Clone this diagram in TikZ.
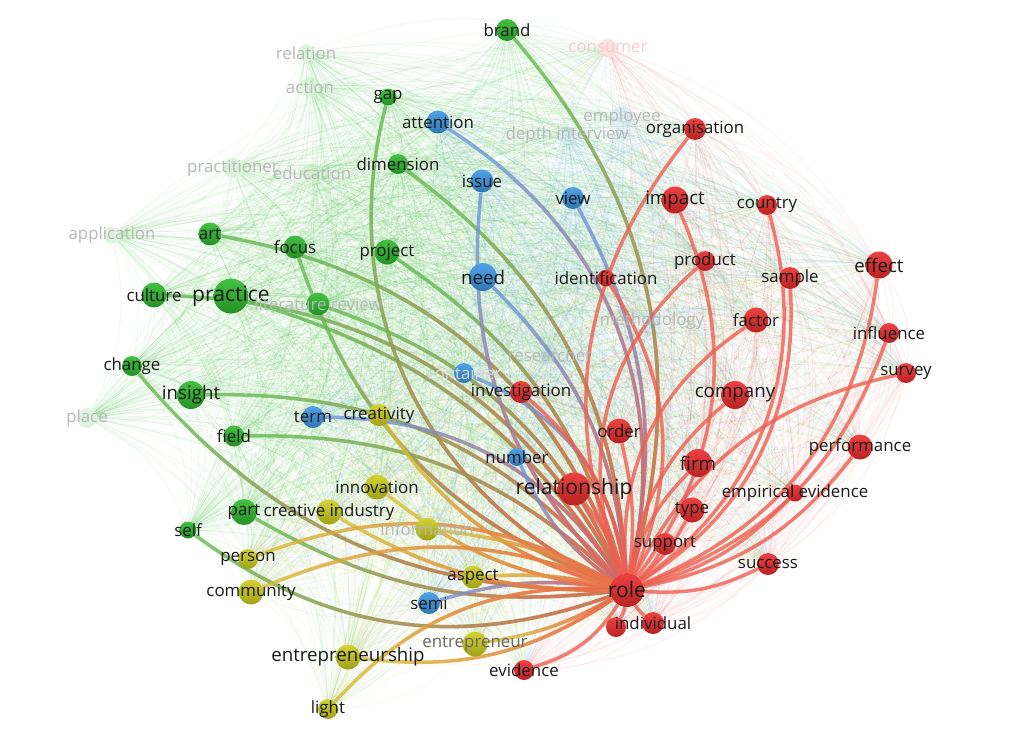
\documentclass[tikz,border=0pt]{standalone}
\usepackage{fontspec}
\setmainfont{Open Sans}
\usetikzlibrary{fadings}

\definecolor{colG}{RGB}{46,186,46}
\definecolor{colB}{RGB}{60,152,228}
\definecolor{colY}{RGB}{206,206,30}
\definecolor{colR}{RGB}{236,44,44}
\definecolor{edG}{RGB}{100,185,80}
\definecolor{edB}{RGB}{110,150,215}
\definecolor{edY}{RGB}{215,190,50}
\definecolor{edR}{RGB}{238,95,80}

\pgfdeclarelayer{mesh}
\pgfdeclarelayer{links}
\pgfsetlayers{mesh,links,main}

\tikzset{
  bub/.style={circle,inner sep=0pt,top color=#1!90!white,bottom color=#1!78!black},
  ghost/.style={circle,inner sep=0pt,fill=#1,fill opacity=0.15},
  dia/.style={minimum size=#1*0.025cm},
  lab/.style={font=\fontsize{12}{12}\selectfont,text=black!90,inner sep=0pt},
  labM/.style={lab,font=\fontsize{13.3}{13}\selectfont},
  labL/.style={lab,font=\fontsize{15}{15}\selectfont},
  glab/.style={lab,text=black!28},
  hot/.style={draw=#1,line width=2.5pt,draw opacity=0.8},
  mesh/.style={draw=#1,line width=0.5pt,draw opacity=0.09},
}

% edge to role, coloured from the keyword's cluster into red
\newcommand{\toRole}[3]{%
  \draw[hot=#3] (#1) to[#2] (role);
  \pgfmathanglebetweenpoints{\pgfpointanchor{role}{center}}{\pgfpointanchor{#1}{center}}%
  \let\edgeang\pgfmathresult
  \draw[hot=edR,path fading=east,fading angle=\edgeang] (#1) to[#2] (role);
}
\newcommand{\redRole}[2]{\draw[hot=edR] (#1) to[#2] (role);}

\def\kwlist{brand/colG,relation/colG,action/colG,gap/colG,dimension/colG,practitioner/colG,
  education/colG,art/colG,application/colG,focus/colG,project/colG,culture/colG,practice/colG,
  litrev/colG,change/colG,insight/colG,place/colG,field/colG,part/colG,self/colG,
  attention/colB,employee/colB,depthint/colB,issue/colB,view/colB,need/colB,method/colB,
  researcher/colB,container/colB,term/colB,number/colB,semi/colB,
  creativity/colY,innovation/colY,creaind/colY,information/colY,person/colY,community/colY,
  aspect/colY,entship/colY,entrepreneur/colY,light/colY,
  consumer/colR,organisation/colR,impact/colR,country/colR,product/colR,identification/colR,
  sample/colR,effect/colR,factor/colR,influence/colR,survey/colR,investigation/colR,
  company/colR,order/colR,performance/colR,firm/colR,relationship/colR,empev/colR,type/colR,
  support/colR,success/colR,noname/colR,individual/colR,evidence/colR,role/colR}

\begin{document}
\begin{tikzpicture}[x=0.025cm,y=0.025cm]
    \useasboundingbox (0,0) rectangle (1024,-737);

    % green cluster
    \node[bub=colG,dia=22,label={[lab]center:brand}] (brand) at (507,-30) {};
    \node[ghost=colG,dia=17,label={[glab]center:relation}] (relation) at (306,-53) {};
    \node[ghost=colG,dia=20,label={[glab]center:action}] (action) at (310,-87) {};
    \node[bub=colG,dia=17,label={[lab]center:gap}] (gap) at (388,-97) {};
    \node[bub=colG,dia=20,label={[lab]center:dimension}] (dimension) at (398,-164) {};
    \node[ghost=colG,dia=20,label={[glab]center:practitioner}] (practitioner) at (233,-168) {};
    \node[ghost=colG,dia=20,label={[glab]center:education}] (education) at (312,-173) {};
    \node[bub=colG,dia=23,label={[lab]center:art}] (art) at (210,-234) {};
    \node[ghost=colG,dia=17,label={[glab]center:application}] (application) at (112,-235) {};
    \node[bub=colG,dia=23,label={[lab]center:focus}] (focus) at (295,-247) {};
    \node[bub=colG,dia=25,label={[lab]center:project}] (project) at (387,-252) {};
    \node[bub=colG,dia=25,label={[lab]center:culture}] (culture) at (154,-295) {};
    \node[bub=colG,dia=35,label={[labL]center:practice}] (practice) at (231,-296) {};
    \node[bub=colG,dia=23,label={[glab]center:literature review}] (litrev) at (318,-304) {};
    \node[bub=colG,dia=20,label={[lab]center:change}] (change) at (132,-366) {};
    \node[bub=colG,dia=28,label={[labM]center:insight}] (insight) at (191,-395) {};
    \node[ghost=colG,dia=20,label={[glab]center:place}] (place) at (87,-418) {};
    \node[bub=colG,dia=21,label={[lab]center:field}] (field) at (234,-436) {};
    \node[bub=colG,dia=26,label={[lab]center:part}] (part) at (244,-512) {};
    \node[bub=colG,dia=17,label={[lab]center:self}] (self) at (188,-530) {};

    % blue cluster
    \node[bub=colB,dia=23,label={[lab]center:attention}] (attention) at (438,-122) {};
    \node[ghost=colB,dia=22,label={[glab]center:employee}] (employee) at (622,-117) {};
    \node[ghost=colB,dia=18,label={[glab]center:depth interview}] (depthint) at (567,-135) {};
    \node[bub=colB,dia=23,label={[lab]center:issue}] (issue) at (482,-181) {};
    \node[bub=colB,dia=22,label={[lab]center:view}] (view) at (573,-198) {};
    \node[bub=colB,dia=28,label={[labM]center:need}] (need) at (483,-277) {};
    \node[ghost=colB,dia=18,label={[glab]center:methodology}] (method) at (652,-321) {};
    \node[ghost=colB,dia=20,label={[glab]center:researcher}] (researcher) at (550,-355) {};
    \node[bub=colB,dia=20,label={[glab,text=black!15]center:container}] (container) at (464,-373) {};
    \node[bub=colB,dia=22,label={[lab]center:term}] (term) at (313,-417) {};
    \node[bub=colB,dia=18,label={[lab]center:number}] (number) at (517,-457) {};
    \node[bub=colB,dia=22,label={[lab]center:semi}] (semi) at (429,-603) {};

    % yellow cluster
    \node[bub=colY,dia=22,label={[lab]center:creativity}] (creativity) at (379,-415) {};
    \node[bub=colY,dia=25,label={[lab]center:innovation}] (innovation) at (377,-487) {};
    \node[bub=colY,dia=25,label={[lab]center:creative industry}] (creaind) at (329,-512) {};
    \node[bub=colY,dia=23,label={[glab]center:information}] (information) at (427,-529) {};
    \node[bub=colY,dia=20,label={[lab]center:person}] (person) at (248,-559) {};
    \node[bub=colY,dia=25,label={[lab]center:community}] (community) at (251,-592) {};
    \node[bub=colY,dia=23,label={[lab]center:aspect}] (aspect) at (473,-577) {};
    \node[bub=colY,dia=25,label={[labM]center:entrepreneurship}] (entship) at (348,-657) {};
    \node[bub=colY,dia=25,label={[lab,text=black!60]center:entrepreneur}] (entrepreneur) at (475,-644) {};
    \node[bub=colY,dia=20,label={[lab]center:light}] (light) at (328,-709) {};

    % red cluster
    \node[ghost=colR,dia=18,label={[glab,text=colR!25]center:consumer}] (consumer) at (608,-48) {};
    \node[bub=colR,dia=22,label={[lab]center:organisation}] (organisation) at (695,-129) {};
    \node[bub=colR,dia=27,label={[labM]center:impact}] (impact) at (675,-200) {};
    \node[bub=colR,dia=20,label={[lab]center:country}] (country) at (767,-205) {};
    \node[bub=colR,dia=20,label={[lab]center:product}] (product) at (705,-261) {};
    \node[bub=colR,dia=17,label={[lab]center:identification}] (identification) at (606,-278) {};
    \node[bub=colR,dia=22,label={[lab]center:sample}] (sample) at (790,-278) {};
    \node[bub=colR,dia=27,label={[labM]center:effect}] (effect) at (879,-265) {};
    \node[bub=colR,dia=25,label={[lab]center:factor}] (factor) at (756,-320) {};
    \node[bub=colR,dia=20,label={[lab]center:influence}] (influence) at (889,-333) {};
    \node[bub=colR,dia=20,label={[lab]center:survey}] (survey) at (906,-373) {};
    \node[bub=colR,dia=22,label={[lab]center:investigation}] (investigation) at (521,-392) {};
    \node[bub=colR,dia=28,label={[labM]center:company}] (company) at (735,-395) {};
    \node[bub=colR,dia=25,label={[lab]center:order}] (order) at (619,-431) {};
    \node[bub=colR,dia=25,label={[lab]center:performance}] (performance) at (860,-447) {};
    \node[bub=colR,dia=28,label={[labM]center:firm}] (firm) at (698,-463) {};
    \node[bub=colR,dia=33,label={[labL]center:relationship}] (relationship) at (574,-489) {};
    \node[bub=colR,dia=17,label={[lab]center:empirical evidence}] (empev) at (795,-493) {};
    \node[bub=colR,dia=25,label={[lab]center:type}] (type) at (692,-510) {};
    \node[bub=colR,dia=22,label={[lab]center:support}] (support) at (665,-544) {};
    \node[bub=colR,dia=22,label={[lab]center:success}] (success) at (768,-564) {};
    \node[bub=colR,dia=20] (noname) at (616,-627) {};
    \node[bub=colR,dia=22,label={[lab]center:individual}] (individual) at (653,-623) {};
    \node[bub=colR,dia=20,label={[lab]center:evidence}] (evidence) at (524,-670) {};
    \node[bub=colR,dia=34,label={[labL]center:role}] (role) at (627,-590) {};

    % faint co-occurrence links
    \begin{pgfonlayer}{mesh}
    \fill[white] (0,0) rectangle (1024,-737);
    \foreach \a/\ca [count=\i] in \kwlist {
      \foreach \b/\cb [count=\j] in \kwlist {
        \ifnum\j>\i \draw[mesh=\ca] (\a) to[bend left=20] (\b); \fi
      }
    }
    \end{pgfonlayer}

    % strong links of role
    \begin{pgfonlayer}{links}
    \toRole{brand}{bend left=28}{edG}
    \toRole{gap}{bend right=40}{edG}
    \toRole{dimension}{bend left=25}{edG}
    \toRole{project}{bend left=20}{edG}
    \toRole{art}{bend left=30}{edG}
    \toRole{focus}{bend right=25}{edG}
    \toRole{culture}{bend left=30}{edG}
    \toRole{practice}{bend left=20}{edG}
    \toRole{litrev}{bend left=23}{edG}
    \toRole{change}{bend right=25}{edG}
    \toRole{insight}{bend left=25}{edG}
    \toRole{field}{bend left=22}{edG}
    \toRole{part}{bend right=18}{edG}
    \toRole{self}{bend right=28}{edG}
    \toRole{attention}{bend left=35}{edB}
    \toRole{issue}{bend right=25}{edB}
    \toRole{need}{bend left=20}{edB}
    \toRole{view}{bend left=20}{edB}
    \toRole{container}{bend left=30}{edB}
    \toRole{term}{bend left=28}{edB}
    \toRole{number}{bend right=15}{edB}
    \toRole{semi}{bend left=12}{edB}
    \toRole{creativity}{bend right=20}{edY}
    \toRole{innovation}{bend right=15}{edY}
    \toRole{creaind}{bend right=15}{edY}
    \toRole{information}{bend left=10}{edY}
    \toRole{person}{bend left=25}{edY}
    \toRole{community}{bend left=22}{edY}
    \toRole{aspect}{bend left=8}{edY}
    \toRole{entship}{bend right=20}{edY}
    \toRole{entrepreneur}{bend right=10}{edY}
    \toRole{light}{bend left=25}{edY}
    \redRole{organisation}{bend right=30}
    \redRole{impact}{bend left=30}
    \redRole{country}{bend left=35}
    \redRole{product}{bend right=35}
    \redRole{identification}{bend left=28}
    \redRole{sample}{bend left=30}
    \redRole{effect}{bend left=30}
    \redRole{factor}{bend right=30}
    \redRole{influence}{bend left=25}
    \redRole{survey}{bend right=25}
    \redRole{company}{bend right=20}
    \redRole{order}{bend left=10}
    \redRole{performance}{bend left=20}
    \redRole{firm}{bend right=15}
    \redRole{empev}{bend left=15}
    \redRole{type}{bend left=10}
    \redRole{support}{bend left=8}
    \redRole{success}{bend left=15}
    \redRole{individual}{bend left=10}
    \redRole{noname}{bend right=10}
    \redRole{evidence}{bend right=20}
    \redRole{investigation}{bend left=20}
    \redRole{relationship}{bend left=10}
    \end{pgfonlayer}
\end{tikzpicture}
\end{document}
